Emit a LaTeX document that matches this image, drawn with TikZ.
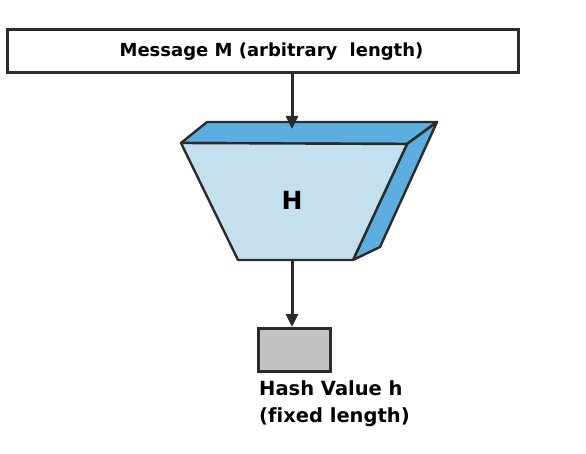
\documentclass[tikz,border=0pt]{standalone}
\usepackage{fontspec}
\setmainfont{DejaVu Sans}[Ligatures=NoCommon]
\usepackage{tikz}
\usetikzlibrary{arrows.meta,positioning}
\definecolor{inkdark}{HTML}{2B2B2B}
\definecolor{facefront}{HTML}{C4E0EE}
\definecolor{faceside}{HTML}{5BAEDF}
\definecolor{hashgray}{HTML}{C2C2C2}
\tikzset{
  msgbox/.style={
    rectangle, draw=inkdark, line width=3pt, fill=white,
    minimum width=511pt, minimum height=43pt,
    font=\fontsize{18}{22}\selectfont\bfseries
  },
  hashbox/.style={
    rectangle, draw=inkdark, line width=3pt, fill=hashgray,
    minimum width=72pt, minimum height=43pt
  },
  hashlabel/.style={
    align=left, font=\fontsize{19.5}{27}\selectfont\bfseries, inner sep=0pt
  },
  facefill/.style={draw=inkdark, line width=2.4pt, line join=round},
  flowarrow/.style={-{Triangle[length=13pt,width=12pt]}, line width=3pt, color=inkdark},
}
\begin{document}
\begin{tikzpicture}[x=1pt, y=-1pt]
  \useasboundingbox (0,0) rectangle (586,454);
  \node[msgbox] (msg) at (262.5,51.5) {\hspace*{18pt}Message M (arbitrary\,\, length)};
  % hash function block
  \filldraw[facefill, fill=faceside] (181,143) -- (207,122) -- (437,122) -- (407,144) -- cycle;
  \filldraw[facefill, fill=faceside] (407,144) -- (437,122) -- (380,247) -- (353,260) -- cycle;
  \filldraw[facefill, fill=facefront] (181,143) -- (407,144) -- (353,260) -- (238,260) -- cycle;
  \node[font=\fontsize{25}{30}\selectfont\bfseries] (H) at (292,200) {H};
  \coordinate (htop) at (292,129);
  \coordinate (hbot) at (292,260);
  % output
  \node[hashbox] (hash) at (294,350) {};
  \node[hashlabel, anchor=north west] (hlabel) at (259,380) {Hash Value h\\(fixed length)};
  \draw[flowarrow] (msg.south -| htop) -- (htop);
  \draw[flowarrow] (hbot) -- (hash.north -| hbot);
\end{tikzpicture}
\end{document}
